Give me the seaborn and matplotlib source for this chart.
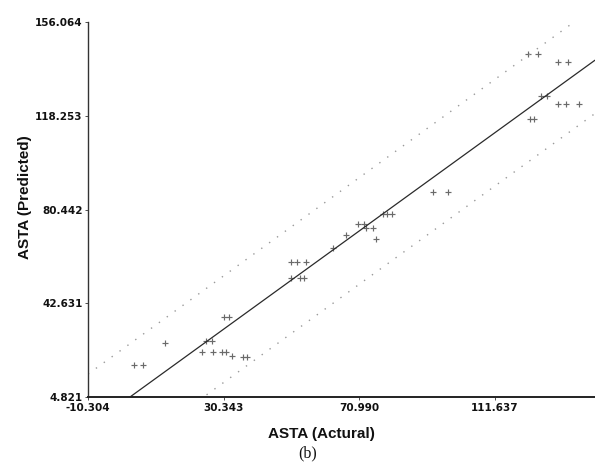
import numpy as np
import pandas as pd
import matplotlib
matplotlib.use("Agg")
import matplotlib.pyplot as plt
import seaborn as sns

# Measured vs. predicted ASTA values
actual = [3.48, 6.17, 12.76, 30.44, 31.94, 25.05, 26.84, 23.85, 27.14, 29.84,
          31.04, 32.84, 36.13, 37.33, 50.51, 52.31, 55.01, 50.51, 53.21, 54.41,
          63.09, 66.99, 70.58, 72.38, 72.98, 75.08, 75.98, 78.07, 79.27, 80.77,
          93.05, 97.55, 121.51, 124.51, 130.50, 133.50, 125.41, 127.21, 130.50,
          132.90, 136.79, 122.11, 123.31]
predicted = [17.73, 17.73, 26.60, 37.09, 37.09, 27.41, 27.41, 22.97, 22.97, 22.97,
             22.97, 21.36, 20.96, 20.96, 59.28, 59.28, 59.28, 52.82, 52.82, 52.82,
             64.92, 70.17, 74.61, 74.61, 72.99, 72.99, 68.56, 78.64, 78.64, 78.64,
             87.51, 87.51, 143.18, 143.18, 139.96, 139.96, 126.24, 126.24, 123.01,
             123.01, 123.01, 116.96, 116.96]

# Regression line and prediction band
fit_slope = 0.975
fit_intercept = 2.6
band_halfwidth = 21.5

x_ticks = [-10.304, 30.343, 70.990, 111.637]
y_ticks = [4.821, 42.631, 80.442, 118.253, 156.064]
x_max = 141.6

sns.set_theme(style="white")
plt.rcParams["font.family"] = ["Liberation Sans", "DejaVu Sans"]

fig = plt.figure(figsize=(5.95, 4.68), dpi=100)
ax = fig.add_axes([88 / 595, 1 - 397 / 468, 1 - 88 / 595, (397 - 22) / 468])

xs = np.array([x_ticks[0], x_max])
fit = pd.DataFrame({
    "x": xs,
    "fit": fit_slope * xs + fit_intercept,
    "upper": fit_slope * xs + fit_intercept + band_halfwidth,
    "lower": fit_slope * xs + fit_intercept - band_halfwidth,
})

sns.lineplot(data=fit, x="x", y="fit", ax=ax, color="#2a2a2a", lw=0.9)
sns.lineplot(data=fit, x="x", y="upper", ax=ax, color="#9a9a9a", lw=1.0,
             linestyle=(0, (1, 6)))
sns.lineplot(data=fit, x="x", y="lower", ax=ax, color="#9a9a9a", lw=1.0,
             linestyle=(0, (1, 6)))

points = pd.DataFrame({"actual": actual, "predicted": predicted})
sns.scatterplot(data=points, x="actual", y="predicted", ax=ax, marker="+",
                s=24, color="#6a6a6a", linewidth=0.85)

ax.set_xlim(x_ticks[0], x_max)
ax.set_ylim(y_ticks[0], y_ticks[-1])

tick_font = dict(family=["Liberation Sans Narrow", "DejaVu Sans"],
                 weight="bold", size=7.5)
ax.set_xticks(x_ticks)
ax.set_xticklabels([f"{v:.3f}" for v in x_ticks], **tick_font)
ax.set_yticks(y_ticks)
ax.set_yticklabels([f"{v:.3f}" for v in y_ticks], **tick_font)
ax.tick_params(axis="both", direction="out", length=2.5, width=0.6,
               colors="#333333", pad=1.5, bottom=True, left=True)
for lbl in ax.get_xticklabels() + ax.get_yticklabels():
    lbl.set_color("#111111")

ax.set_xlabel("")
ax.set_ylabel("")
for side in ("top", "right"):
    ax.spines[side].set_visible(False)
ax.spines["left"].set_color("#333333")
ax.spines["left"].set_linewidth(1.0)
ax.spines["bottom"].set_color("#222222")
ax.spines["bottom"].set_linewidth(1.4)

fig.text(321 / 595, 1 - 434 / 468, "ASTA (Actural)", ha="center", va="center",
         fontsize=11, fontweight="bold", color="#111111")
fig.text(25 / 595, 1 - 197 / 468, "ASTA (Predicted)", ha="center", va="center",
         rotation=90, fontsize=11, fontweight="bold", color="#111111")
fig.text(308 / 595, 1 - 453 / 468, "(b)", ha="center", va="center",
         fontsize=11.5, family=["Liberation Serif", "DejaVu Serif"], color="#111111")

fig.savefig("out.png", dpi=100, facecolor="white")
